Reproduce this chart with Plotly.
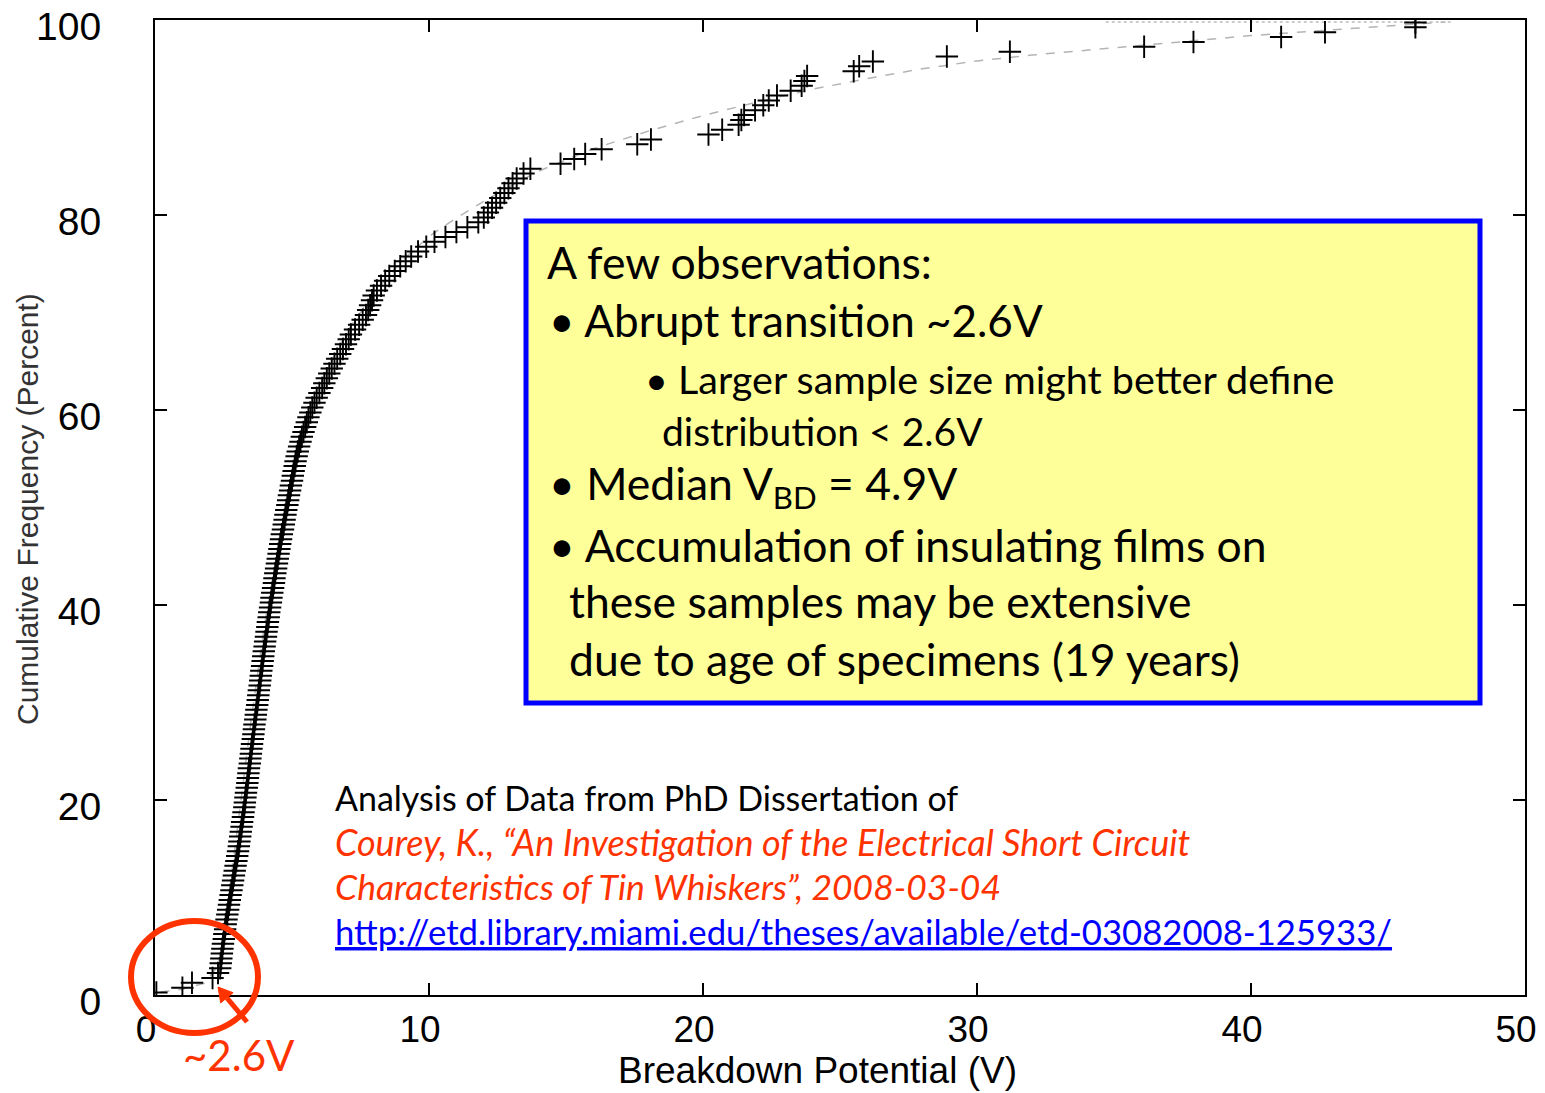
import plotly.graph_objects as go

# ---------------- data ----------------
# sorted breakdown potentials (V), one per specimen
breakdown_v = [
    0.05, 1.00, 1.35, 2.10, 2.30,
    2.38, 2.40, 2.42, 2.44, 2.46, 2.48, 2.51, 2.53, 2.56, 2.58, 2.61, 2.64, 2.67, 2.70, 2.73,
    2.76, 2.79, 2.82, 2.85, 2.88, 2.91, 2.94, 2.97, 3.00, 3.03,
    3.06, 3.08, 3.11, 3.13, 3.16, 3.18, 3.21, 3.23, 3.26, 3.28,
    3.30, 3.32, 3.35, 3.37, 3.39, 3.41, 3.43, 3.46, 3.48, 3.50,
    3.52, 3.54, 3.57, 3.59, 3.61, 3.63, 3.66, 3.68, 3.70, 3.73,
    3.75, 3.77, 3.79, 3.82, 3.84, 3.86, 3.88, 3.91, 3.93, 3.95,
    3.97, 4.00, 4.02, 4.05, 4.07, 4.10, 4.12, 4.15, 4.17, 4.20,
    4.23, 4.25, 4.28, 4.31, 4.34, 4.36, 4.39, 4.42, 4.45, 4.48,
    4.51, 4.54, 4.57, 4.60, 4.63, 4.67, 4.70, 4.73, 4.76, 4.79,
    4.83, 4.86, 4.89, 4.93, 4.96, 5.00, 5.03, 5.06, 5.10, 5.13,
    5.17, 5.21, 5.26, 5.31, 5.36, 5.42, 5.48, 5.54, 5.60, 5.67,
    5.74, 5.82, 5.90, 6.00,
    6.10, 6.18, 6.27, 6.36, 6.45, 6.55,
    6.65, 6.76, 6.86, 6.97, 7.07, 7.15,
    7.30, 7.45, 7.58, 7.70,
    7.78, 7.85, 7.92, 7.98,
    8.10, 8.25, 8.40, 8.55,
    8.75, 8.95, 9.15, 9.35,
    9.60, 9.90, 10.20, 10.60,
    11.00, 11.40, 11.80, 12.00,
    12.15, 12.30, 12.45, 12.60,
    12.75, 12.90, 13.05, 13.20,
    13.45,
    13.7, 14.8, 15.3, 15.7, 16.3, 17.6, 18.1, 20.2, 20.7, 21.3,
    21.4, 21.5, 21.9, 22.2, 22.4, 22.7, 23.2, 23.6, 23.7, 23.8,
    25.5, 25.7, 26.2, 28.9, 31.2, 36.1, 37.9, 41.1, 42.7, 46.0, 46.0,
]

# cumulative frequency (percent) of each specimen
cum_freq_pct = [
    0.25, 0.75, 1.25, 1.75, 2.25, 2.75, 3.25, 3.75, 4.25, 4.75,
    5.25, 5.75, 6.25, 6.75, 7.25, 7.75, 8.25, 8.75, 9.25, 9.75,
    10.25, 10.75, 11.25, 11.75, 12.25, 12.75, 13.25, 13.75, 14.25, 14.75,
    15.25, 15.75, 16.25, 16.75, 17.25, 17.75, 18.25, 18.75, 19.25, 19.75,
    20.25, 20.75, 21.25, 21.75, 22.25, 22.75, 23.25, 23.75, 24.25, 24.75,
    25.25, 25.75, 26.25, 26.75, 27.25, 27.75, 28.25, 28.75, 29.25, 29.75,
    30.25, 30.75, 31.25, 31.75, 32.25, 32.75, 33.25, 33.75, 34.25, 34.75,
    35.25, 35.75, 36.25, 36.75, 37.25, 37.75, 38.25, 38.75, 39.25, 39.75,
    40.25, 40.75, 41.25, 41.75, 42.25, 42.75, 43.25, 43.75, 44.25, 44.75,
    45.25, 45.75, 46.25, 46.75, 47.25, 47.75, 48.25, 48.75, 49.25, 49.75,
    50.25, 50.75, 51.25, 51.75, 52.25, 52.75, 53.25, 53.75, 54.25, 54.75,
    55.25, 55.75, 56.25, 56.75, 57.25, 57.75, 58.25, 58.75, 59.25, 59.75,
    60.25, 60.75, 61.25, 61.75, 62.25, 62.75, 63.25, 63.75, 64.25, 64.75,
    65.25, 65.75, 66.25, 66.75, 67.25, 67.75, 68.25, 68.75, 69.25, 69.75,
    70.25, 70.75, 71.25, 71.75, 72.25, 72.75, 73.25, 73.75, 74.25, 74.75,
    75.25, 75.75, 76.25, 76.75, 77.25, 77.75, 78.25, 78.75, 79.25, 79.75,
    80.25, 80.75, 81.25, 81.75, 82.25, 82.75, 83.25, 83.75, 84.25, 84.75,
    85.25, 85.75, 86.25, 86.75, 87.25, 87.75, 88.25, 88.75, 89.25, 89.75,
    90.25, 90.75, 91.25, 91.75, 92.25, 92.75, 93.25, 93.75, 94.25, 94.75,
    95.25, 95.75, 96.25, 96.75, 97.25, 97.75, 98.25, 98.75, 99.25, 99.75,
]

# grey dashed fitted distribution curve
fit_v = [0.2, 1.0, 1.8, 2.3, 2.6, 3.0, 3.5, 4.0, 4.5, 5.0, 5.5, 6.0, 7.0, 8.0, 9.0,
         10.0, 11.0, 12.0, 13.0, 14.0, 16.0, 18.0, 20.0, 22.0, 24.0, 26.0, 28.0,
         30.0, 32.0, 34.0, 36.0, 38.0, 40.0, 42.0, 44.0, 46.0, 47.1]
fit_pct = [0.3, 0.6, 1.2, 3.0, 8.0, 17.0, 28.0, 38.0, 46.0, 53.0, 58.5, 62.5, 68.0, 72.0, 75.3,
           77.8, 79.7, 81.4, 83.0, 84.5, 86.8, 88.6, 90.2, 91.6, 92.9, 94.0, 95.0,
           95.8, 96.4, 96.9, 97.4, 97.9, 98.4, 98.8, 99.2, 99.6, 99.8]

# grey dotted reference line near 100 %
dot_v = [34.7, 47.3]
dot_pct = [99.8, 99.8]

x_ticks = [0, 10, 20, 30, 40, 50]
y_ticks = [0, 20, 40, 60, 80, 100]

# ---------------- figure ----------------
W, H = 1545, 1093
L, R, T, B = 155, 1525, 20, 995


def px(xp):
    return (xp - L) / (R - L)


def py(yp):
    return (B - yp) / (B - T)


fig = go.Figure()
fig.add_trace(go.Scatter(x=fit_v, y=fit_pct, mode="lines",
                         line=dict(color="#b4b4b4", width=1.5, dash="dash"),
                         hoverinfo="skip", showlegend=False))
fig.add_trace(go.Scatter(x=dot_v, y=dot_pct, mode="lines",
                         line=dict(color="#bdbdbd", width=1.5, dash="dot"),
                         hoverinfo="skip", showlegend=False))
fig.add_trace(go.Scatter(x=breakdown_v, y=cum_freq_pct, mode="markers",
                         marker=dict(symbol="cross-thin", size=16,
                                     line=dict(color="black", width=1.9)),
                         showlegend=False))

axis_common = dict(showline=True, linecolor="black", linewidth=2, mirror="ticks",
                   ticks="inside", ticklen=12, tickwidth=1.5, tickcolor="black",
                   showgrid=False, zeroline=False, ticklabeloverflow="allow",
                   automargin=False)

fig.update_xaxes(range=[0, 50], tickvals=x_ticks, ticklabelstandoff=1, ticklabelshift=-9,
                 tickfont=dict(family="Liberation Sans, Arial", size=37, color="black"),
                 **axis_common)
fig.update_yaxes(range=[0, 100], tickvals=y_ticks, ticklabelstandoff=44, ticklabelshift=6,
                 tickfont=dict(family="Liberation Sans, Arial", size=39, color="black"),
                 **axis_common)

# arrow (callout) geometry in pixels: shaft + triangular head
tail = (247, 1022)
tip = (218, 987)
head_base = (226.9, 997.8)
head_c1 = (233.1, 992.7)
head_c2 = (220.7, 1002.9)
arrow_path = (f"M {px(head_c1[0])} {py(head_c1[1])} L {px(tip[0])} {py(tip[1])} "
              f"L {px(head_c2[0])} {py(head_c2[1])} Z")

shapes = [
    dict(type="rect", xref="paper", yref="paper",
         x0=px(526), x1=px(1480), y0=py(703), y1=py(221),
         line=dict(color="#0000FF", width=5), fillcolor="#FFFF99", layer="above"),
    dict(type="circle", xref="paper", yref="paper",
         x0=px(131), x1=px(258), y0=py(1033), y1=py(921),
         line=dict(color="#FF3300", width=6), layer="above"),
    dict(type="line", xref="paper", yref="paper",
         x0=px(tail[0]), y0=py(tail[1]), x1=px(head_base[0]), y1=py(head_base[1]),
         line=dict(color="#FF3300", width=5), layer="above"),
    dict(type="path", xref="paper", yref="paper", path=arrow_path,
         fillcolor="#FF3300", line=dict(color="#FF3300", width=1), layer="above"),
]

CAL = "Lato, Carlito, Calibri, sans-serif"
annotations = []


def txt(text, x, y, size, color="black", xanchor="left", italic=False, family=CAL, angle=0,
        yanchor="middle"):
    t = f"<i>{text}</i>" if italic else text
    annotations.append(dict(text=t, xref="paper", yref="paper", x=px(x), y=py(y),
                            xanchor=xanchor, yanchor=yanchor, showarrow=False,
                            textangle=angle, borderpad=0,
                            font=dict(family=family, size=size, color=color)))


# observations box
txt("A few observations:", 546, 261, 44.5)
txt("• Abrupt transition ~2.6V", 548, 320, 44)
txt("• Larger sample size might better define", 644, 378, 39.5)
txt("distribution &lt; 2.6V", 661, 431, 39)
txt("• Median V<sub>BD</sub> = 4.9V", 548, 486, 44.5)
txt("• Accumulation of insulating films on", 548, 544, 44.5)
txt("these samples may be extensive", 568, 601, 44.5)
txt("due to age of specimens (19 years)", 568, 658, 44.5)

# citation
txt("Analysis of Data from PhD Dissertation of", 334, 797, 34)
txt("Courey, K., “An Investigation of the Electrical Short Circuit", 334, 842, 36,
    color="#FF3300", italic=True)
txt("Characteristics of Tin Whiskers”, 2008-03-04", 334, 886, 35.5,
    color="#FF3300", italic=True)
txt("<span style='text-decoration:underline'>http://etd.library.miami.edu/theses/available/etd-03082008-125933/</span>",
    334, 931, 34.7, color="#0000FF")

# ~2.6V callout
txt("~2.6V", 182, 1055, 42, color="#FF3300")

# axis titles
txt("Breakdown Potential (V)", 817, 1092, 37, xanchor="center", yanchor="bottom",
    family="Liberation Sans, Arial")
txt("Cumulative Frequency (Percent)", 28, 509, 30, color="#333333", xanchor="center",
    family="Liberation Sans, Arial", angle=-90)

fig.update_layout(width=W, height=H, margin=dict(l=L, r=W - R, t=T, b=H - B, autoexpand=False),
                  paper_bgcolor="white", plot_bgcolor="white",
                  shapes=shapes, annotations=annotations)

fig.write_html("out.html", config={"displayModeBar": False},
               post_script="document.body.style.margin='0px';"
                           "document.body.style.overflow='hidden';")
